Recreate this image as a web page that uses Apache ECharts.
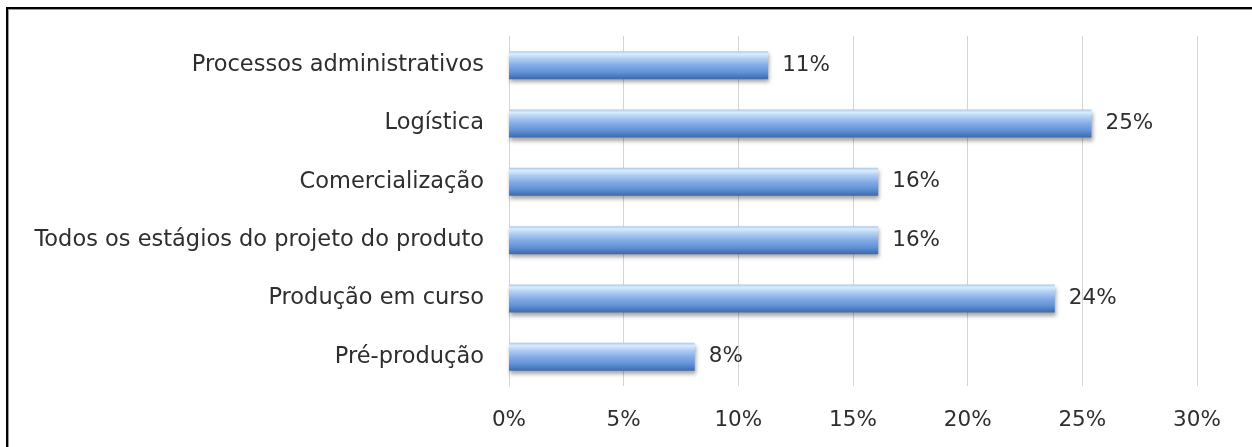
<!DOCTYPE html>
<html>
<head>
<meta charset="utf-8">
<script src="https://cdn.jsdelivr.net/npm/echarts@6/dist/echarts.min.js"></script>
<style>
html,body{margin:0;padding:0;background:#fff;overflow:hidden;width:1252px;height:447px;}
#chart{position:absolute;left:0;top:0;width:1252px;height:447px;}
.fl{position:absolute;pointer-events:none;}
#ftop{left:6px;top:7px;width:1246px;height:2px;background:#000;}
#ftop2{left:8px;top:9px;width:1244px;height:1px;background:#9a9a9a;}
#fleft{left:6px;top:7px;width:2px;height:440px;background:#000;}
#fleft2{left:8px;top:9px;width:1px;height:438px;background:#9a9a9a;}
</style>
</head>
<body>
<div id="chart"></div>
<div class="fl" id="ftop"></div>
<div class="fl" id="ftop2"></div>
<div class="fl" id="fleft"></div>
<div class="fl" id="fleft2"></div>
<script>
const categories = [
  'Processos administrativos',
  'Logística',
  'Comercialização',
  'Todos os estágios do projeto do produto',
  'Produção em curso',
  'Pré-produção'
];
const values = [11.3, 25.4, 16.1, 16.1, 23.8, 8.1];
const valueLabels = ['11%', '25%', '16%', '16%', '24%', '8%'];
const tickValues = [0, 5, 10, 15, 20, 25, 30];

const FONT = 'DejaVu Sans';
const TEXT = '#2e2e2e';
const chart = echarts.init(document.getElementById('chart'), null, {renderer: 'canvas'});
chart.setOption({
  animation: false,
  backgroundColor: '#ffffff',
  grid: {left: 509, right: 55, top: 36, bottom: 61, containLabel: false},
  xAxis: {
    type: 'value',
    min: tickValues[0],
    max: tickValues[tickValues.length - 1],
    interval: 5,
    axisLine: {show: false},
    axisTick: {show: false},
    axisLabel: {
      formatter: v => v + '%',
      color: TEXT,
      fontFamily: FONT,
      fontSize: 21.5,
      margin: 23
    },
    splitLine: {show: true, lineStyle: {color: '#d4d4d4', width: 1}}
  },
  yAxis: {
    type: 'category',
    inverse: true,
    data: categories,
    axisLine: {show: true, lineStyle: {color: '#d4d4d4', width: 1}},
    axisTick: {show: false},
    axisLabel: {
      color: TEXT,
      fontFamily: FONT,
      fontSize: 22.5,
      margin: 25
    }
  },
  series: [{
    type: 'bar',
    data: values,
    barWidth: 28,
    itemStyle: {
      color: new echarts.graphic.LinearGradient(0, 0, 0, 1, [
        {offset: 0, color: '#a9c9ef'},
        {offset: 0.1, color: '#daedfc'},
        {offset: 0.25, color: '#b3d1f4'},
        {offset: 0.5, color: '#84ade7'},
        {offset: 0.75, color: '#6292d8'},
        {offset: 1, color: '#3d69ab'}
      ]),
      shadowColor: 'rgba(0,0,0,0.35)',
      shadowBlur: 4,
      shadowOffsetX: 1,
      shadowOffsetY: 3
    },
    label: {
      show: true,
      position: 'right',
      distance: 14,
      formatter: p => valueLabels[p.dataIndex],
      color: TEXT,
      fontFamily: FONT,
      fontSize: 21.5
    }
  }]
});
</script>
</body>
</html>
